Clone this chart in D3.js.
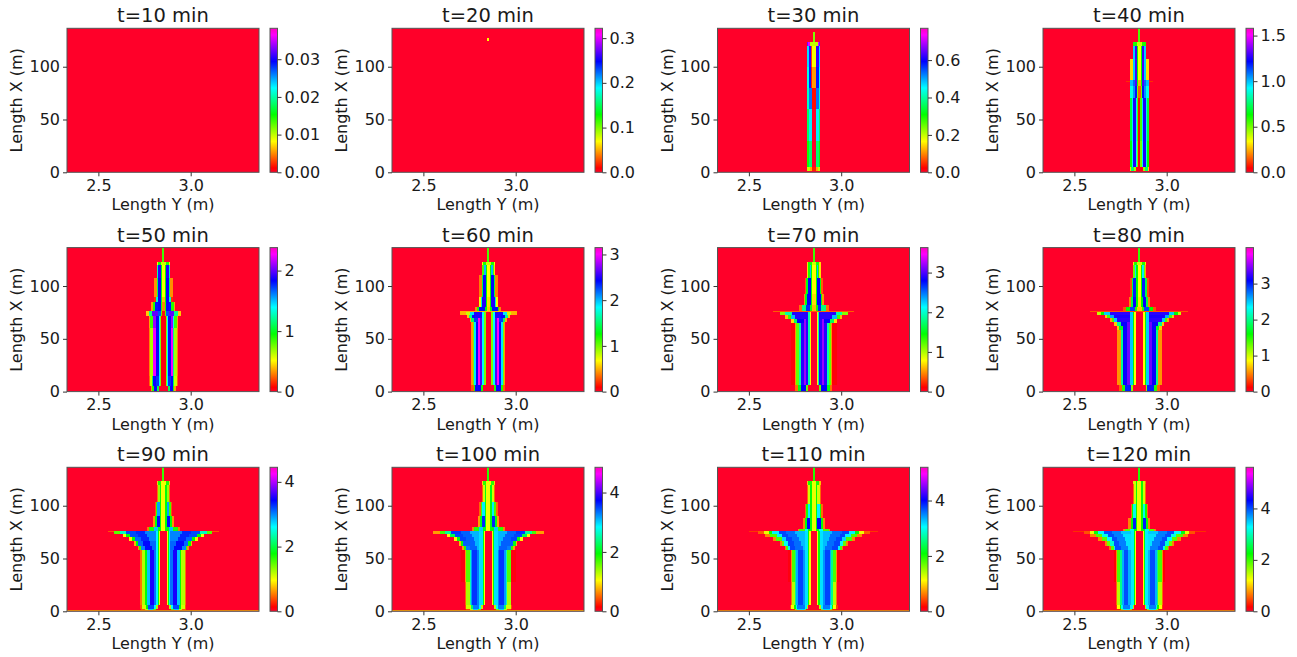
<!DOCTYPE html>
<html lang="en">

<head>
  <meta charset="UTF-8">
  <title>Depth over time</title>
  <script src="https://d3js.org/d3.v7.min.js"></script>
  <style>
    html, body { margin: 0; background: #fff; }
    svg { display: block; }
    text { font-family: "DejaVu Sans", sans-serif; fill: #1a1a1a; }
    .tick text { font-size: 16px; }
    .tick line { stroke: #333; }
    .axis path.domain { display: none; }
    .frame { fill: none; stroke: #555; stroke-width: 1px; }
    .heat rect { shape-rendering: crispEdges; }
  </style>
</head>

<body>
<div class="canvas"></div>
<script>
  // chart values
  const times = [10, 20, 30, 40, 50, 60, 70, 80, 90, 100, 110, 120];
  const colorMax = [0.0382, 0.322, 0.77, 1.58, 2.38, 3.15, 3.63, 4.0, 4.45, 4.85, 5.2, 5.6];
  const xTicks = [2.5, 3.0];
  const xTickLabels = ['2.5', '3.0'];
  const yTicks = [0, 50, 100];
  const colorTicks = [
    [0, 0.01, 0.02, 0.03], [0, 0.1, 0.2, 0.3], [0, 0.2, 0.4, 0.6], [0, 0.5, 1, 1.5],
    [0, 1, 2], [0, 1, 2, 3], [0, 1, 2, 3], [0, 1, 2, 3],
    [0, 2, 4], [0, 2, 4], [0, 2, 4], [0, 2, 4]
  ];
  const colorTickLabels = [
    ['0.00', '0.01', '0.02', '0.03'], ['0.0', '0.1', '0.2', '0.3'], ['0.0', '0.2', '0.4', '0.6'], ['0.0', '0.5', '1.0', '1.5'],
    ['0', '1', '2'], ['0', '1', '2', '3'], ['0', '1', '2', '3'], ['0', '1', '2', '3'],
    ['0', '2', '4'], ['0', '2', '4'], ['0', '2', '4'], ['0', '2', '4']
  ];

  // gist_rainbow stops
  const cmapPos = [0, 0.03, 0.215, 0.4, 0.586, 0.77, 0.954, 1];
  const cmapColors = ['#ff0029', '#ff0000', '#ffff00', '#00ff00', '#00ffff', '#0000ff', '#ff00ff', '#ff00bf'];

  const yCenter = 2.852; // the pattern is mirrored around this Y
  const yDomain = [2.33, 3.37];
  const xDomain = [0, 136.4];

  // each row: [X from, X to, [[distance from centre in m, value], ...]] going outward
  const t10 = [];
  const t20 = [[124, 127, [[0.006, 0.07]]]];
  const t30 = [
    [123, 133, [[0.005, 0.24]]],
    [120, 123, [[0.006, 0.2], [0.02, 0.2], [0.03, 0.72], [0.035, 0.66]]],
    [100, 120, [[0.009, 0.17], [0.014, 0.06], [0.028, 0.62], [0.035, 0.47]]],
    [80, 100, [[0.009, 0.11], [0.013, 0.04], [0.028, 0.58], [0.035, 0.44]]],
    [60, 80, [[0.012, 0.03], [0.028, 0.53], [0.035, 0.42]]],
    [30, 60, [[0.012, 0], [0.026, 0.46], [0.035, 0.36]]],
    [5, 30, [[0.012, 0], [0.026, 0.37], [0.035, 0.3]]],
    [1, 5, [[0.012, 0.04], [0.022, 0.12], [0.035, 0.2]]]
  ];
  const t40 = [
    [123, 136.4, [[0.006, 0.55]]],
    [120, 123, [[0.012, 0.4], [0.036, 0.6]]],
    [107, 120, [[0.009, 0.34], [0.014, 0.64], [0.024, 1.28], [0.034, 0.98], [0.037, 0.7]]],
    [87, 107, [[0.009, 0.34], [0.014, 0.64], [0.024, 1.3], [0.034, 0.98], [0.05, 0.3]]],
    [85.5, 86.5, [[0.072, 0.1]]],
    [82, 87, [[0.009, 0.25], [0.014, 0.64], [0.024, 1.3], [0.034, 1.1], [0.05, 1.0]]],
    [70, 82, [[0.009, 0.15], [0.014, 0.5], [0.024, 1.2], [0.036, 1.05], [0.052, 0.9]]],
    [30, 70, [[0.006, 0.06], [0.012, 0.55], [0.02, 0.95], [0.034, 1.25], [0.04, 0.95], [0.052, 0.7]]],
    [5, 30, [[0.006, 0.03], [0.012, 0.5], [0.02, 0.9], [0.034, 1.25], [0.04, 0.9], [0.052, 0.64]]],
    [1, 5, [[0.02, 0.02], [0.03, 0.45], [0.045, 0.75], [0.052, 0.3]]]
  ];
  const t50 = [
    [123, 136.4, [[0.006, 0.85]]],
    [120, 123, [[0.012, 0.6], [0.03, 0.9], [0.037, 0.5]]],
    [108, 120, [[0.009, 0.52], [0.014, 0.96], [0.028, 1.9], [0.034, 1.25], [0.037, 0.8]]],
    [90, 108, [[0.009, 0.52], [0.014, 0.96], [0.028, 1.85], [0.036, 1.1], [0.05, 0.32]]],
    [85, 90, [[0.009, 0.4], [0.014, 0.96], [0.03, 1.85], [0.04, 1.3], [0.05, 0.15]]],
    [76, 85, [[0.009, 0.3], [0.014, 0.9], [0.03, 1.85], [0.044, 1.8], [0.055, 0.9], [0.065, 0.35]]],
    [72, 76, [[0.009, 0.1], [0.014, 0.8], [0.03, 1.7], [0.06, 2.0], [0.08, 1.2], [0.095, 0.42]]],
    [60, 72, [[0.012, 0.05], [0.018, 0.74], [0.025, 1.4], [0.04, 1.85], [0.054, 2.1], [0.058, 1.4], [0.074, 0.85], [0.08, 0.35]]],
    [15, 60, [[0.012, 0.05], [0.018, 0.74], [0.025, 1.4], [0.04, 1.85], [0.054, 2.25], [0.058, 1.2], [0.074, 0.66], [0.08, 0.3]]],
    [5, 15, [[0.012, 0.05], [0.018, 0.74], [0.025, 1.4], [0.04, 1.75], [0.054, 1.85], [0.06, 1.1], [0.074, 0.6], [0.08, 0.25]]],
    [1, 5, [[0.024, 0], [0.035, 1.1], [0.05, 1.85], [0.06, 0.9], [0.068, 0.35]]]
  ];
  const in60 = [[0.014, 0], [0.024, 0.98], [0.034, 1.85]];
  const t60 = [
    [123, 136.4, [[0.006, 1.1]]],
    [120, 123, [[0.012, 0.8], [0.03, 1.2], [0.036, 0.7]]],
    [110, 120, [[0.009, 0.68], [0.015, 1.26], [0.026, 2.0], [0.032, 1.1], [0.036, 0.6]]],
    [90, 110, [[0.009, 0.68], [0.015, 1.26], [0.03, 2.4], [0.037, 1.4], [0.05, 0.38]]],
    [80, 90, [[0.009, 0.6], [0.015, 1.26], [0.034, 2.5], [0.042, 1.7], [0.052, 0.7]]],
    [76, 80, [[0.009, 0.55], [0.02, 1.3], [0.05, 2.4], [0.06, 1.2], [0.07, 0.4]]],
    [75.5, 76.5, [[0.155, 0.5]]],
    [73, 75.5, [...in60, [0.08, 2.5], [0.1, 1.9], [0.122, 0.8], [0.155, 0.5]]],
    [69.5, 73, [...in60, [0.07, 2.5], [0.09, 2.4], [0.106, 1.6], [0.118, 0.55]]],
    [66, 69.5, [...in60, [0.045, 2.6], [0.056, 3.0], [0.078, 2.3], [0.092, 1.5], [0.102, 0.5]]],
    [6, 66, [...in60, [0.045, 2.6], [0.056, 3.0], [0.067, 2.45], [0.078, 1.9], [0.085, 1.0], [0.092, 0.45]]],
    [1, 6, [[0.028, 0], [0.04, 1.2], [0.07, 2.45], [0.08, 1.2], [0.092, 0.3]]]
  ];
  const in70 = [[0.017, 0], [0.023, 0.8], [0.03, 1.9], [0.042, 2.9]];
  const t70 = [
    [123, 136.4, [[0.006, 1.3]]],
    [120, 123, [[0.012, 0.9], [0.03, 1.4], [0.036, 0.7]]],
    [108, 120, [[0.009, 0.78], [0.015, 1.46], [0.022, 2.3], [0.03, 1.4], [0.036, 0.7]]],
    [92, 108, [[0.009, 0.78], [0.015, 1.46], [0.032, 2.8], [0.04, 1.5], [0.048, 0.35]]],
    [82, 92, [[0.009, 0.7], [0.015, 1.46], [0.036, 2.8], [0.046, 1.5], [0.056, 0.5]]],
    [76, 82, [[0.009, 0.6], [0.02, 1.4], [0.04, 2.7], [0.065, 1.8], [0.08, 0.4]]],
    [75.5, 76.5, [[0.22, 0.35]]],
    [72.5, 75.6, [...in70, [0.12, 2.9], [0.155, 1.9], [0.185, 1.1]]],
    [69, 72.5, [...in70, [0.1, 2.9], [0.125, 2.3], [0.14, 1.3], [0.155, 0.6]]],
    [65, 69, [...in70, [0.054, 3.2], [0.09, 2.8], [0.11, 1.7], [0.125, 0.7]]],
    [6, 65, [...in70, [0.054, 3.2], [0.072, 2.9], [0.081, 1.9], [0.095, 1.2], [0.1, 0.5], [0.125, 0.08]]],
    [1, 6, [[0.03, 0], [0.04, 1.2], [0.07, 2.8], [0.085, 1.5], [0.1, 0.4]]]
  ];
  const in80 = [[0.02, 0], [0.028, 0.86], [0.036, 1.6], [0.05, 2.5]];
  const t80 = [
    [123, 136.4, [[0.006, 1.45]]],
    [120, 123, [[0.012, 1.0], [0.03, 1.5], [0.036, 0.8]]],
    [108, 120, [[0.01, 0.86], [0.016, 1.6], [0.024, 2.4], [0.032, 1.3], [0.037, 0.6]]],
    [90, 108, [[0.01, 0.86], [0.016, 1.6], [0.032, 3.0], [0.04, 1.8], [0.05, 0.35]]],
    [80, 90, [[0.01, 0.8], [0.018, 1.6], [0.036, 3.1], [0.046, 1.8], [0.056, 0.5]]],
    [76, 80, [[0.012, 0.7], [0.025, 1.5], [0.05, 2.9], [0.075, 1.6], [0.09, 0.35]]],
    [75.5, 76.5, [[0.265, 0.35]]],
    [73, 75.7, [...in80, [0.16, 3.2], [0.19, 2.5], [0.21, 1.6], [0.228, 1.05]]],
    [70, 73, [...in80, [0.14, 3.15], [0.16, 2.6], [0.175, 1.4], [0.185, 0.7]]],
    [66, 70, [...in80, [0.12, 3.2], [0.14, 2.5], [0.15, 1.4], [0.158, 0.6]]],
    [62, 66, [...in80, [0.068, 3.4], [0.1, 3.1], [0.122, 2.0], [0.135, 0.7]]],
    [58, 62, [...in80, [0.068, 3.4], [0.09, 3.1], [0.108, 1.7], [0.122, 0.7]]],
    [6, 58, [...in80, [0.068, 3.4], [0.088, 3.1], [0.1, 2.0], [0.122, 0.55]]],
    [1, 6, [[0.034, 0], [0.044, 1.2], [0.08, 3.0], [0.095, 1.5], [0.11, 0.4]]]
  ];
  const in90 = [[0.018, 0], [0.024, 0.97], [0.03, 1.8], [0.038, 2.64]];
  const t90 = [
    [123, 136.4, [[0.006, 1.6]]],
    [120, 123, [[0.012, 1.0], [0.03, 1.7], [0.036, 0.8]]],
    [104, 120, [[0.011, 1.0], [0.019, 1.8], [0.031, 1.3], [0.036, 0.5]]],
    [90, 104, [[0.011, 1.0], [0.019, 1.8], [0.032, 2.9], [0.04, 1.6], [0.048, 0.4]]],
    [80, 90, [[0.011, 1.0], [0.019, 1.8], [0.036, 3.4], [0.046, 1.8], [0.056, 0.6]]],
    [76, 80, [[0.011, 1.0], [0.03, 1.8], [0.05, 2.8], [0.08, 1.7], [0.088, 0.5]]],
    [75.5, 76.5, [[0.3, 0.4]]],
    [73, 75.7, [...in90, [0.1, 3.0], [0.15, 3.3], [0.2, 3.2], [0.235, 2.4], [0.265, 1.5]]],
    [70, 73, [...in90, [0.09, 3.0], [0.14, 3.3], [0.18, 3.2], [0.205, 1.8], [0.22, 1.0]]],
    [66.5, 70, [...in90, [0.08, 3.0], [0.12, 3.3], [0.155, 3.1], [0.172, 1.8], [0.185, 0.9]]],
    [62, 66.5, [...in90, [0.07, 3.1], [0.11, 3.4], [0.135, 3.1], [0.148, 1.8], [0.157, 0.7]]],
    [58.5, 62, [...in90, [0.06, 3.1], [0.1, 3.4], [0.12, 3.0], [0.13, 1.6], [0.14, 0.6]]],
    [6, 58.5, [...in90, [0.05, 3.06], [0.075, 3.5], [0.088, 2.8], [0.097, 1.8], [0.118, 1.2], [0.125, 0.5]]],
    [2, 6, [[0.03, 0], [0.04, 1.2], [0.05, 2.6], [0.085, 3.2], [0.095, 1.8], [0.118, 1.1], [0.125, 0.4]]],
    [0.8, 2, [[0.04, 0], [0.055, 1.5], [0.085, 2.8], [0.1, 1.2], [0.12, 0.4]]],
    [0, 0.8, [[0.53, 0.6]]]
  ];
  const in100 = [[0.019, 0], [0.025, 1.06], [0.031, 1.98], [0.05, 2.95]];
  const t100 = [
    [123, 136.4, [[0.006, 1.8]]],
    [120, 123, [[0.012, 1.1], [0.03, 1.8], [0.036, 0.9]]],
    [104, 120, [[0.011, 1.1], [0.019, 2.0], [0.031, 1.2], [0.036, 0.5]]],
    [90, 104, [[0.011, 1.1], [0.019, 2.0], [0.032, 2.9], [0.04, 1.7], [0.05, 0.5]]],
    [80, 90, [[0.011, 1.1], [0.019, 2.0], [0.036, 3.6], [0.046, 2.0], [0.058, 0.7]]],
    [76, 80, [[0.011, 1.1], [0.03, 2.0], [0.05, 3.0], [0.08, 1.8], [0.088, 0.6]]],
    [73, 76.2, [...in100, [0.1, 3.1], [0.15, 3.4], [0.2, 3.55], [0.235, 2.5], [0.26, 1.7], [0.3, 0.7]]],
    [70, 73, [...in100, [0.09, 3.1], [0.14, 3.4], [0.18, 3.5], [0.21, 2.2], [0.225, 1.0]]],
    [66.5, 70, [...in100, [0.08, 3.1], [0.12, 3.4], [0.155, 3.5], [0.17, 2.0], [0.185, 1.0]]],
    [62, 66.5, [...in100, [0.07, 3.1], [0.11, 3.4], [0.135, 3.4], [0.148, 2.0], [0.157, 0.8]]],
    [58.5, 62, [...in100, [0.06, 3.1], [0.1, 3.4], [0.12, 3.3], [0.133, 1.8], [0.143, 0.7]]],
    [28, 58.5, [...in100, [0.06, 3.3], [0.086, 3.55], [0.094, 3.2], [0.1, 2.6], [0.12, 1.65], [0.125, 0.7], [0.15, 0.08]]],
    [6, 28, [...in100, [0.06, 3.3], [0.086, 3.55], [0.094, 3.2], [0.1, 2.6], [0.12, 1.35], [0.125, 0.5]]],
    [2, 6, [[0.03, 0], [0.04, 1.3], [0.05, 2.8], [0.085, 3.3], [0.095, 2.3], [0.12, 1.2], [0.126, 0.4]]],
    [0.8, 2, [[0.04, 0], [0.055, 1.6], [0.085, 3.0], [0.1, 1.3], [0.12, 0.4]]],
    [0, 0.8, [[0.53, 0.7]]]
  ];
  const in110 = [[0.018, 0], [0.024, 1.14], [0.031, 2.12], [0.05, 3.15]];
  const t110 = [
    [123, 136.4, [[0.006, 1.95]]],
    [120, 123, [[0.012, 1.2], [0.03, 2.0], [0.036, 0.9]]],
    [102, 120, [[0.011, 1.2], [0.019, 2.1], [0.031, 1.3], [0.036, 0.55]]],
    [88, 102, [[0.011, 1.2], [0.019, 2.1], [0.032, 3.1], [0.04, 2.0], [0.048, 0.55]]],
    [78, 88, [[0.011, 1.2], [0.019, 2.1], [0.036, 4.0], [0.048, 2.1], [0.06, 0.65]]],
    [76, 78, [[0.011, 1.2], [0.03, 2.1], [0.05, 3.0], [0.08, 1.8], [0.088, 0.65]]],
    [75.5, 76.5, [[0.35, 0.35]]],
    [73, 75.7, [...in110, [0.1, 3.3], [0.15, 3.6], [0.19, 3.75], [0.225, 3.1], [0.245, 2.1], [0.27, 1.2], [0.305, 0.5]]],
    [70, 73, [...in110, [0.09, 3.3], [0.14, 3.6], [0.17, 3.75], [0.2, 3.1], [0.235, 1.8], [0.263, 0.65]]],
    [66.5, 70, [...in110, [0.08, 3.3], [0.12, 3.6], [0.15, 3.75], [0.175, 3.2], [0.205, 1.8], [0.223, 0.65]]],
    [62, 66.5, [...in110, [0.07, 3.3], [0.11, 3.6], [0.14, 3.75], [0.16, 3.0], [0.175, 1.7], [0.184, 0.65]]],
    [58.5, 62, [...in110, [0.06, 3.3], [0.1, 3.6], [0.13, 3.75], [0.14, 3.1], [0.15, 1.8], [0.157, 0.6]]],
    [28, 58.5, [...in110, [0.06, 3.45], [0.086, 3.75], [0.095, 3.35], [0.103, 2.6], [0.12, 1.8], [0.125, 0.7], [0.14, 0.1]]],
    [6, 28, [...in110, [0.06, 3.45], [0.086, 3.75], [0.095, 3.35], [0.103, 2.6], [0.12, 1.4], [0.125, 0.6]]],
    [2.5, 6, [[0.03, 0], [0.036, 1.4], [0.05, 3.1], [0.09, 3.55], [0.097, 3.0], [0.105, 2.1], [0.122, 1.1], [0.128, 0.4]]],
    [0.9, 2.5, [[0.04, 0], [0.05, 1.6], [0.09, 3.2], [0.1, 1.6], [0.12, 0.3]]],
    [0, 0.9, [[0.53, 0.65]]]
  ];
  const in120 = [[0.018, 0], [0.024, 1.2], [0.03, 2.3], [0.048, 3.35]];
  const t120 = [
    [123, 136.4, [[0.006, 2.1]]],
    [120.5, 123, [[0.011, 1.3], [0.02, 2.2], [0.032, 1.4], [0.036, 0.7]]],
    [102, 120.5, [[0.011, 1.3], [0.019, 2.2], [0.031, 1.4], [0.036, 0.6]]],
    [88, 102, [[0.011, 1.3], [0.019, 2.2], [0.032, 3.2], [0.04, 2.2], [0.048, 0.6]]],
    [78, 88, [[0.011, 1.3], [0.019, 2.2], [0.036, 4.2], [0.048, 2.2], [0.06, 0.7]]],
    [76, 78, [[0.011, 1.3], [0.03, 2.3], [0.05, 3.2], [0.08, 1.9], [0.088, 0.7]]],
    [75.5, 76.5, [[0.36, 0.35]]],
    [73, 75.7, [...in120, [0.1, 3.5], [0.15, 3.8], [0.19, 4.0], [0.225, 3.3], [0.245, 2.3], [0.27, 1.3], [0.3, 0.5]]],
    [70, 73, [...in120, [0.09, 3.4], [0.14, 3.8], [0.17, 4.0], [0.2, 3.2], [0.235, 1.9], [0.265, 0.7]]],
    [66.5, 70, [...in120, [0.08, 3.4], [0.12, 3.8], [0.15, 4.0], [0.175, 3.3], [0.205, 1.9], [0.225, 0.7]]],
    [62, 66.5, [...in120, [0.07, 3.4], [0.11, 3.8], [0.14, 4.0], [0.16, 3.1], [0.175, 1.8], [0.185, 0.7]]],
    [58.5, 62, [...in120, [0.06, 3.4], [0.1, 3.8], [0.13, 4.0], [0.14, 3.2], [0.155, 1.9], [0.163, 0.6]]],
    [28, 58.5, [...in120, [0.06, 3.6], [0.085, 4.0], [0.095, 3.6], [0.103, 2.8], [0.12, 1.95], [0.127, 0.7], [0.14, 0.15]]],
    [6, 28, [...in120, [0.06, 3.6], [0.085, 4.0], [0.095, 3.6], [0.103, 2.8], [0.12, 1.5], [0.127, 0.6]]],
    [2.5, 6, [[0.03, 0], [0.036, 1.5], [0.05, 3.3], [0.09, 3.8], [0.097, 3.2], [0.105, 2.2], [0.122, 1.2], [0.128, 0.4]]],
    [1, 2.5, [[0.04, 0], [0.05, 1.7], [0.09, 3.4], [0.1, 1.7], [0.12, 0.3]]],
    [0, 1, [[0.53, 0.7]]]
  ];
  const panels = [t10, t20, t30, t40, t50, t60, t70, t80, t90, t100, t110, t120];

  const colLeft = [67, 392, 717.5, 1043];
  const rowTop = [28.3, 247.6, 467.3];
  const plotW = 192;
  const plotH = 144;
  const barGap = 11;
  const barW = 7.5;

  const cmap = d3.scaleLinear().domain(cmapPos).range(cmapColors).clamp(true);

  const svg = d3.select('.canvas')
    .append('svg')
    .attr('width', 1297)
    .attr('height', 657);

  const defs = svg.append('defs');

  defs.append('filter').attr('id', 'soft')
    .attr('color-interpolation-filters', 'sRGB')
    .append('feGaussianBlur').attr('stdDeviation', 0.55);

  const grad = defs.append('linearGradient').attr('id', 'bar')
    .attr('x1', 0).attr('y1', 1).attr('x2', 0).attr('y2', 0);
  grad.selectAll('stop')
    .data(cmapPos)
    .enter()
    .append('stop')
    .attr('offset', d => d)
    .attr('stop-color', (d, i) => cmapColors[i]);

  times.forEach((t, i) => {
    const left = colLeft[i % 4];
    const top = rowTop[Math.floor(i / 4)];
    const g = svg.append('g').attr('transform', `translate(${left},${top})`);

    const x = d3.scaleLinear().domain(yDomain).range([0, plotW]);
    const y = d3.scaleLinear().domain(xDomain).range([plotH, 0]);
    const c = v => cmap(v / colorMax[i]);

    defs.append('clipPath').attr('id', `clip${i}`)
      .append('rect').attr('width', plotW).attr('height', plotH);

    const heat = g.append('g').attr('clip-path', `url(#clip${i})`)
      .append('g').attr('class', 'heat').attr('filter', 'url(#soft)');

    heat.append('rect')
      .attr('x', -10).attr('y', -10)
      .attr('width', plotW + 20).attr('height', plotH + 20)
      .attr('fill', c(0));

    // every row is a mirrored run of segments, drawn outermost first
    panels[i].forEach(([x0, x1, segs]) => {
      heat.selectAll(null)
        .data(segs.slice().reverse())
        .enter()
        .append('rect')
        .attr('x', d => x(yCenter - d[0]))
        .attr('width', d => x(yCenter + d[0]) - x(yCenter - d[0]))
        .attr('y', y(x1))
        .attr('height', y(x0) - y(x1))
        .attr('fill', d => c(d[1]));
    });

    g.append('rect').attr('class', 'frame').attr('width', plotW).attr('height', plotH);

    g.append('g').attr('class', 'axis')
      .attr('transform', `translate(0,${plotH})`)
      .call(d3.axisBottom(x).tickValues(xTicks).tickSize(4).tickPadding(3)
        .tickFormat((d, k) => xTickLabels[k]));

    g.append('g').attr('class', 'axis')
      .call(d3.axisLeft(y).tickValues(yTicks).tickSize(4).tickPadding(3));

    g.append('text')
      .attr('x', plotW / 2).attr('y', -6)
      .attr('text-anchor', 'middle')
      .style('font-size', '19.5px')
      .text(`t=${t} min`);

    g.append('text')
      .attr('x', plotW / 2).attr('y', 38)
      .attr('dy', plotH)
      .attr('text-anchor', 'middle')
      .style('font-size', '16px')
      .text('Length Y (m)');

    g.append('text')
      .attr('transform', `translate(-45,${plotH / 2}) rotate(-90)`)
      .attr('text-anchor', 'middle')
      .style('font-size', '16px')
      .text('Length X (m)');

    // colour bar
    const bar = g.append('g').attr('transform', `translate(${plotW + barGap},0)`);
    const barScale = d3.scaleLinear().domain([0, colorMax[i]]).range([plotH, 0]);

    bar.append('rect')
      .attr('width', barW).attr('height', plotH)
      .attr('fill', 'url(#bar)');
    bar.append('rect').attr('class', 'frame').attr('width', barW).attr('height', plotH);

    bar.append('g').attr('class', 'axis')
      .attr('transform', `translate(${barW},0)`)
      .call(d3.axisRight(barScale).tickValues(colorTicks[i]).tickSize(4).tickPadding(3)
        .tickFormat((d, k) => colorTickLabels[i][k]));
  });
</script>
</body>

</html>
